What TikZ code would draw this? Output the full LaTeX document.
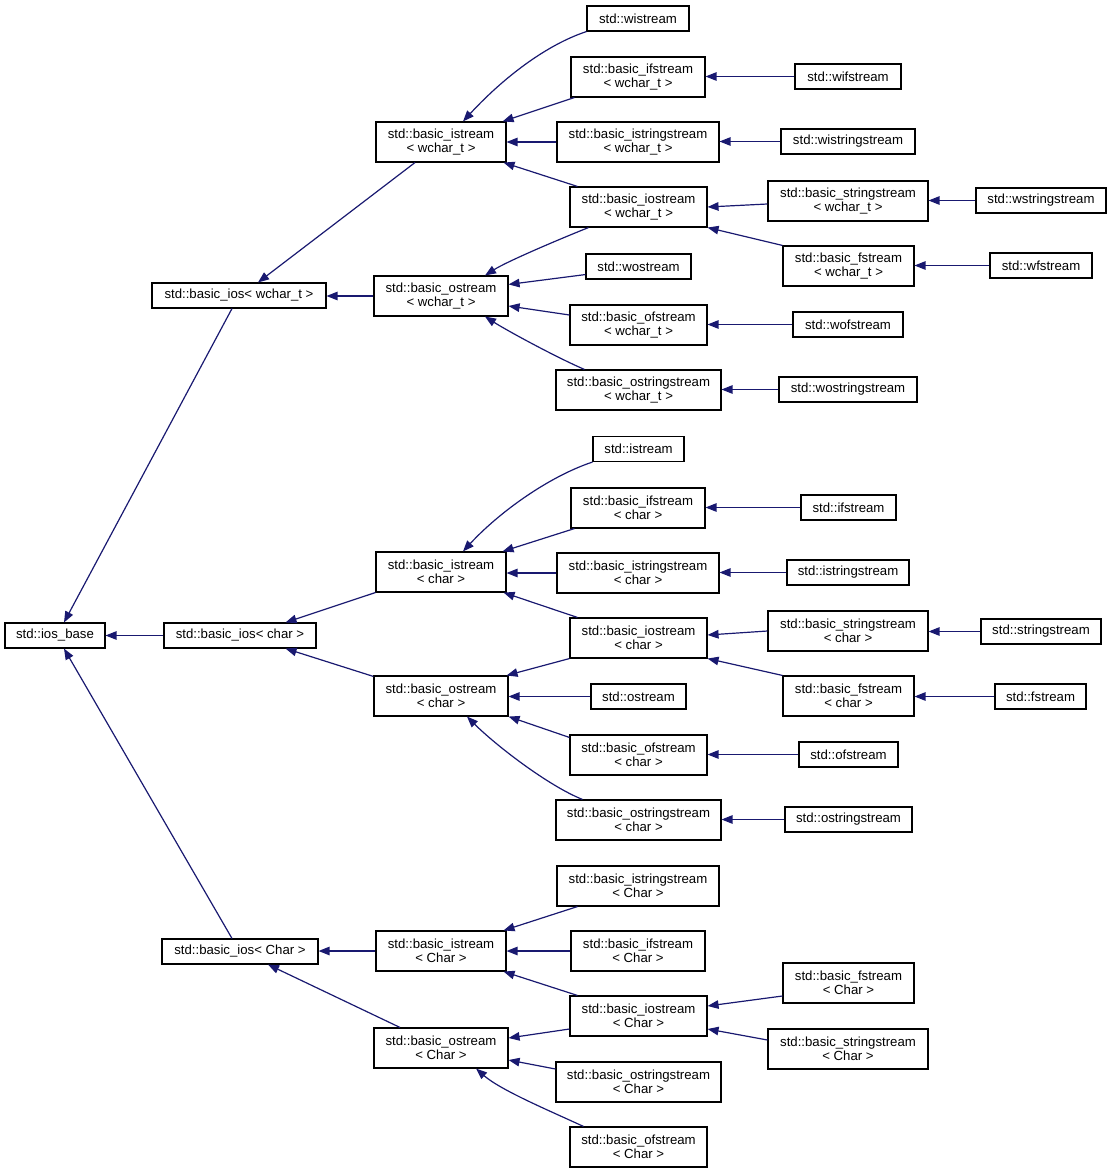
\documentclass[tikz,border=0pt]{standalone}
\usepackage{fontspec}
\setmainfont{Liberation Sans}
\usetikzlibrary{arrows.meta}
\definecolor{navyc}{HTML}{191970}
\begin{document}
\begin{tikzpicture}[x=1pt,y=-1pt,
  bx/.style={draw=black, line width=1.1pt, fill=white, inner sep=0pt, align=center,
    font=\fontsize{13.2}{14.5}\selectfont},
  one/.style={bx, minimum height=25pt},
  two/.style={bx, minimum height=40pt},
  inh/.style={draw=navyc, line width=1.2pt, -{Triangle[length=11pt,width=8.5pt]}}]
\useasboundingbox (0,0) rectangle (1112,1174);

% column 1 and 2
\node[one, minimum width=100pt] (iosb) at (55,635.5) {std::ios\_base};
\node[one, minimum width=174pt] (biosW) at (239,295.5) {std::basic\_ios< wchar\_t >};
\node[one, minimum width=152pt] (biosC) at (240,635.5) {std::basic\_ios< char >};
\node[one, minimum width=156pt] (biosCC) at (240,951.5) {std::basic\_ios< Char >};

% column 3
\node[two, minimum width=130pt] (istW) at (441,142) {std::basic\_istream\\< wchar\_t >};
\node[two, minimum width=134pt] (ostW) at (441,296) {std::basic\_ostream\\< wchar\_t >};
\node[two, minimum width=130pt] (istC) at (441,572) {std::basic\_istream\\< char >};
\node[two, minimum width=134pt] (ostC) at (441,696) {std::basic\_ostream\\< char >};
\node[two, minimum width=130pt] (istCC) at (441,951) {std::basic\_istream\\< Char >};
\node[two, minimum width=134pt] (ostCC) at (441,1048) {std::basic\_ostream\\< Char >};

% column 4 wchar_t
\node[one, minimum width=102pt] (wist) at (638,18.5) {std::wistream};
\node[two, minimum width=134pt] (ifsW) at (638,77) {std::basic\_ifstream\\< wchar\_t >};
\node[two, minimum width=162pt] (isstW) at (638,142) {std::basic\_istringstream\\< wchar\_t >};
\node[two, minimum width=137pt] (iosW) at (638.5,207) {std::basic\_iostream\\< wchar\_t >};
\node[one, minimum width=105pt] (wost) at (638.5,266.5) {std::wostream};
\node[two, minimum width=137pt] (ofsW) at (638.5,325) {std::basic\_ofstream\\< wchar\_t >};
\node[two, minimum width=165pt] (osstW) at (638.5,390) {std::basic\_ostringstream\\< wchar\_t >};

% column 4 char
\node[one, minimum width=91pt] (ist) at (638.5,449) {std::istream};
\node[two, minimum width=134pt] (ifsC) at (638,508) {std::basic\_ifstream\\< char >};
\node[two, minimum width=162pt] (isstC) at (638,573) {std::basic\_istringstream\\< char >};
\node[two, minimum width=137pt] (iosC) at (638.5,638) {std::basic\_iostream\\< char >};
\node[one, minimum width=95pt] (ost) at (638.5,696.5) {std::ostream};
\node[two, minimum width=137pt] (ofsC) at (638.5,755) {std::basic\_ofstream\\< char >};
\node[two, minimum width=165pt] (osstC) at (638.5,820) {std::basic\_ostringstream\\< char >};

% column 4 Char
\node[two, minimum width=162pt] (isstCC) at (638,886) {std::basic\_istringstream\\< Char >};
\node[two, minimum width=134pt] (ifsCC) at (638,951) {std::basic\_ifstream\\< Char >};
\node[two, minimum width=137pt] (iosCC) at (638.5,1016) {std::basic\_iostream\\< Char >};
\node[two, minimum width=165pt] (osstCC) at (638.5,1082) {std::basic\_ostringstream\\< Char >};
\node[two, minimum width=137pt] (ofsCC) at (638.5,1147) {std::basic\_ofstream\\< Char >};

% column 5 wchar_t
\node[one, minimum width=106pt] (wifs) at (848,76.5) {std::wifstream};
\node[one, minimum width=134pt] (wisst) at (848,141.5) {std::wistringstream};
\node[two, minimum width=160pt] (ssW) at (848,201) {std::basic\_stringstream\\< wchar\_t >};
\node[two, minimum width=131pt] (fsW) at (848.5,266) {std::basic\_fstream\\< wchar\_t >};
\node[one, minimum width=110pt] (wofs) at (848,324.5) {std::wofstream};
\node[one, minimum width=138pt] (wosst) at (848,389.5) {std::wostringstream};

% column 5 char
\node[one, minimum width=95pt] (ifs) at (848.5,507.5) {std::ifstream};
\node[one, minimum width=122pt] (isst) at (848,572.5) {std::istringstream};
\node[two, minimum width=160pt] (ssC) at (848,631) {std::basic\_stringstream\\< char >};
\node[two, minimum width=131pt] (fsC) at (848.5,696) {std::basic\_fstream\\< char >};
\node[one, minimum width=99pt] (ofs) at (848.5,754.5) {std::ofstream};
\node[one, minimum width=127pt] (osst) at (848.5,819.5) {std::ostringstream};

% column 5 Char
\node[two, minimum width=131pt] (fsCC) at (848.5,983) {std::basic\_fstream\\< Char >};
\node[two, minimum width=160pt] (ssCC) at (848,1049) {std::basic\_stringstream\\< Char >};

% column 6
\node[one, minimum width=130pt] (wss) at (1041,200.5) {std::wstringstream};
\node[one, minimum width=102pt] (wfs) at (1041,265.5) {std::wfstream};
\node[one, minimum width=120pt] (ss) at (1041,631.5) {std::stringstream};
\node[one, minimum width=91pt] (fs) at (1040.5,696.5) {std::fstream};

% ---- edges to ios_base
\draw[inh] ([xshift=-7]biosW.south) -- ([xshift=9]iosb.north);
\draw[inh] (biosC.west) -- (biosC.west -| iosb.east);
\draw[inh] ([xshift=-8]biosCC.north) -- ([xshift=9]iosb.south);

% ---- wchar_t block
\draw[inh] ([xshift=-26]istW.south) -- ([xshift=19]biosW.north);
\draw[inh] (ostW.west) -- (ostW.west -| biosW.east);
\draw[inh] (wist.south west) .. controls +(-45,15) and +(35,-38) .. ([xshift=22]istW.north);
\draw[inh] ([xshift=4]ifsW.south west) -- ([xshift=-4]istW.north east);
\draw[inh] (isstW.west) -- (isstW.west -| istW.east);
\draw[inh] ([xshift=8]iosW.north west) -- ([xshift=-3]istW.south east);
\draw[inh] ([xshift=-50]iosW.south) .. controls +(-30,12) and +(22,-14) .. ([xshift=44]ostW.north);
\draw[inh] ([yshift=5]wost.south west) -- ([yshift=-9]ostW.north east);
\draw[inh] ([yshift=10]ofsW.west) -- ([yshift=-10]ostW.east);
\draw[inh] ([xshift=-54]osstW.north) .. controls +(-28,-12) and +(22,14) .. ([xshift=44]ostW.south);
\draw[inh] ([yshift=-3]ssW.west) -- (iosW.east);
\draw[inh] (fsW.north west) -- (iosW.south east);
\draw[inh] (wifs.west) -- (wifs.west -| ifsW.east);
\draw[inh] (wisst.west) -- (wisst.west -| isstW.east);
\draw[inh] (wss.west) -- (wss.west -| ssW.east);
\draw[inh] (wfs.west) -- (wfs.west -| fsW.east);
\draw[inh] (wofs.west) -- (wofs.west -| ofsW.east);
\draw[inh] (wosst.west) -- (wosst.west -| osstW.east);

% ---- char block
\draw[inh] (istC.south west) -- ([xshift=-31]biosC.north east);
\draw[inh] ([yshift=-1]ostC.north west) -- ([xshift=-31]biosC.south east);
\draw[inh] (ist.south west) .. controls +(-45,15) and +(35,-38) .. ([xshift=22]istC.north);
\draw[inh] ([xshift=4]ifsC.south west) -- ([xshift=-4]istC.north east);
\draw[inh] (isstC.west) -- (isstC.west -| istC.east);
\draw[inh] ([xshift=8]iosC.north west) -- ([xshift=-3]istC.south east);
\draw[inh] (iosC.south west) -- ([xshift=-2]ostC.north east);
\draw[inh] (ost.west) -- (ost.west -| ostC.east);
\draw[inh] ([yshift=-3]ofsC.north west) -- (ostC.south east);
\draw[inh] ([xshift=-56]osstC.north) .. controls +(-35,-14) and +(28,28) .. ([xshift=26]ostC.south);
\draw[inh] (ssC.west) -- ([yshift=3]iosC.east);
\draw[inh] (fsC.north west) -- (iosC.south east);
\draw[inh] (ifs.west) -- (ifs.west -| ifsC.east);
\draw[inh] (isst.west) -- (isst.west -| isstC.east);
\draw[inh] (ss.west) -- (ss.west -| ssC.east);
\draw[inh] (fs.west) -- (fs.west -| fsC.east);
\draw[inh] (ofs.west) -- (ofs.west -| ofsC.east);
\draw[inh] (osst.west) -- (osst.west -| osstC.east);

% ---- Char block
\draw[inh] (istCC.west) -- (istCC.west -| biosCC.east);
\draw[inh] ([xshift=-41]ostCC.north) -- ([xshift=28]biosCC.south);
\draw[inh] ([xshift=21]isstCC.south west) -- ([xshift=-3]istCC.north east);
\draw[inh] (ifsCC.west) -- (ifsCC.west -| istCC.east);
\draw[inh] ([xshift=8]iosCC.north west) -- ([xshift=-3]istCC.south east);
\draw[inh] ([yshift=-13]iosCC.west) -- ([yshift=10]ostCC.east);
\draw[inh] ([yshift=13]osstCC.west) -- ([yshift=-12]ostCC.east);
\draw[inh] ([xshift=-55]ofsCC.north) .. controls +(-30,-14) and +(25,22) .. ([xshift=35]ostCC.south);
\draw[inh] ([yshift=-13]fsCC.west) -- ([yshift=10]iosCC.east);
\draw[inh] ([yshift=9]ssCC.west) -- ([yshift=-13]iosCC.east);
\end{tikzpicture}
\end{document}
